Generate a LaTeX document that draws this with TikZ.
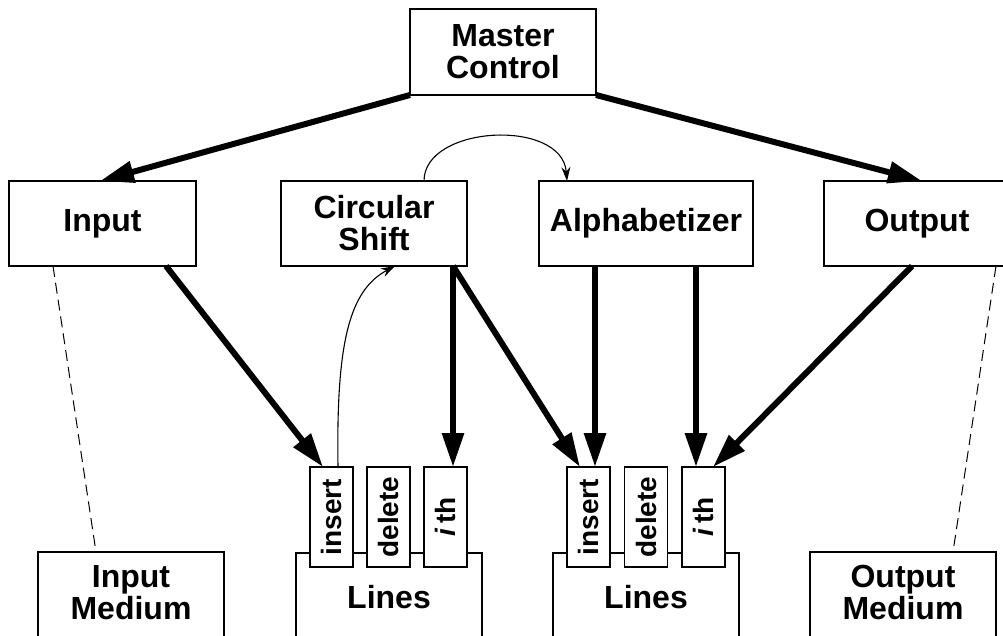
\documentclass[tikz,border=0pt]{standalone}
\usepackage{fontspec}
\setmainfont{Liberation Sans}
\usetikzlibrary{arrows.meta,calc}
\begin{document}
\begin{tikzpicture}[x=1pt,y=-1pt,
  box/.style={draw,line width=1.4pt,fill=white,rectangle,inner sep=0pt,outer sep=0pt,
    font=\fontsize{32}{32}\selectfont\bfseries,align=center},
  slot/.style={box,minimum width=43pt,minimum height=100pt,
    font=\fontsize{28}{28}\selectfont\bfseries},
  plain/.style={inner sep=0pt,outer sep=0pt,font=\fontsize{32}{32}\selectfont\bfseries,align=center},
  call/.style={line width=6pt,-{Triangle[length=34pt,width=21pt]}},
  thin/.style={line width=1.1pt,-{Stealth[length=14pt,width=9pt]}},
  link/.style={line width=1pt,dash pattern=on 11pt off 6pt}]
\useasboundingbox (0,0) rectangle (1003,636);
\clip (0,0) rectangle (1003,636);

% modules
\node[box,minimum width=186pt,minimum height=86pt] (master) at (503,52) {Master\\Control};
\node[box,minimum width=187pt,minimum height=85pt] (input) at (102.5,223.5) {Input};
\node[box,minimum width=186pt,minimum height=85pt] (cs) at (374,223.5) {Circular\\Shift};
\node[box,minimum width=214pt,minimum height=85pt] (alpha) at (646,223.5) {Alphabetizer};
\node[box,minimum width=186pt,minimum height=85pt] (output) at (917,223.5) {Output};

% media
\node[box,anchor=north,minimum width=186pt,minimum height=120pt] (inmed) at (131,552) {};
\node[plain,anchor=north] (inmedt) at (131,565) {Input\\Medium};
\node[box,anchor=north,minimum width=186pt,minimum height=120pt] (outmed) at (903,552) {};
\node[plain,anchor=north] (outmedt) at (903,565) {Output\\Medium};

% line storage modules
\node[box,anchor=north,minimum width=186pt,minimum height=120pt] (linesA) at (389,553) {};
\node[plain,anchor=north] (linesAt) at (389,585) {Lines};
\node[box,anchor=north,minimum width=186pt,minimum height=120pt] (linesB) at (646,553) {};
\node[plain,anchor=north] (linesBt) at (646,585) {Lines};

% access procedures
\node[slot] (insA) at (331.5,517) {\rotatebox{90}{insert}};
\node[slot] (delA) at (388.5,517) {\rotatebox{90}{delete}};
\node[slot] (ithA) at (445.5,517) {\rotatebox{90}{\textit{i}\,th}};
\node[slot] (insB) at (588.5,517) {\rotatebox{90}{insert}};
\node[slot] (delB) at (646,517) {\rotatebox{90}{delete}};
\node[slot] (ithB) at (703.5,517) {\rotatebox{90}{\textit{i}\,th}};

% control
\draw[call] (master.south west) -- ([xshift=-2.5pt]input.north);
\draw[call] (master.south east) -- ([xshift=5pt]output.north);

% calls into the line stores
\draw[call] ([xshift=-30pt]input.south east) -- ([xshift=-8.5pt]insA.north);
\draw[call] ([xshift=-14pt]cs.south east) -- ([xshift=7.5pt]ithA.north);
\draw[call] ([xshift=-14pt]cs.south east) -- ([xshift=-8.5pt]insB.north);
\draw[call] ([xshift=56pt]alpha.south west) -- ([xshift=6.5pt]insB.north);
\draw[call] ([xshift=157pt]alpha.south west) -- ([xshift=-7.5pt]ithB.north);
\draw[call] ([xshift=88pt]output.south west) -- ([xshift=9.5pt]ithB.north);

% thin control transfers
\draw[thin] ([xshift=6.5pt]insA.north) .. controls (336,340) and (350,290) .. ([xshift=21pt]cs.south);
\draw[thin] ([xshift=50pt]cs.north) .. controls (424,125) and (562,118) .. ([xshift=28pt]alpha.north west);

% links to media
\draw[link] ([xshift=44pt]input.south west) -- ([xshift=58pt]inmed.north west);
\draw[link] ([xshift=172pt]output.south west) -- ([xshift=143pt]outmed.north west);
\end{tikzpicture}
\end{document}
